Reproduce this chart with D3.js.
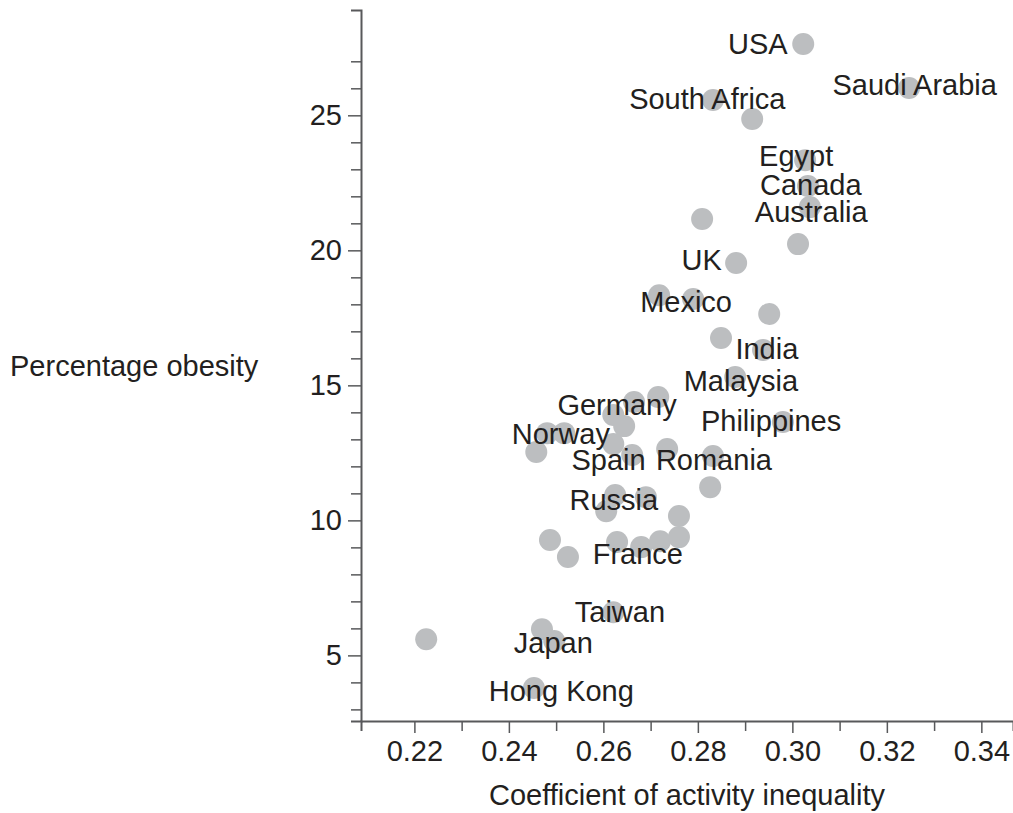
<!DOCTYPE html>
<html>
<head>
<meta charset="utf-8">
<script src="https://cdn.jsdelivr.net/npm/d3@7/dist/d3.min.js"></script>
<style>
  html, body { margin: 0; padding: 0; background: #fff; }
  svg { display: block; }
  text { font-family: "Liberation Sans", Arial, Helvetica, sans-serif; fill: #231f20; }
</style>
</head>
<body>
<svg id="chart" width="1013" height="813"></svg>
<script>
// Coefficient of activity inequality (x) and percentage obesity (y) per country
const inequality = [
  0.3023, 0.3247, 0.2832, 0.2915, 0.3027, 0.3033, 0.3037, 0.2809, 0.3012, 0.2881,
  0.2718, 0.2790, 0.2951, 0.2849, 0.2938, 0.2879, 0.2716, 0.2665, 0.2980, 0.2621,
  0.2644, 0.2481, 0.2517, 0.2458, 0.2621, 0.2661, 0.2735, 0.2832, 0.2826, 0.2625,
  0.2690, 0.2606, 0.2760, 0.2487, 0.2525, 0.2629, 0.2680, 0.2720, 0.2760, 0.2621,
  0.2470, 0.2496, 0.2225, 0.2453
];
const obesity = [
  27.64, 26.01, 25.57, 24.86, 23.34, 22.38, 21.60, 21.16, 20.23, 19.53,
  18.34, 18.20, 17.64, 16.75, 16.31, 15.31, 14.57, 14.38, 13.64, 13.90,
  13.49, 13.23, 13.23, 12.53, 12.83, 12.42, 12.64, 12.38, 11.23, 10.94,
  10.86, 10.34, 10.16, 9.27, 8.64, 9.20, 9.01, 9.23, 9.38, 6.60,
  5.97, 5.53, 5.60, 3.79
];

// Country labels and their anchor points (data units: centre x, baseline y)
const labelNames = ["USA", "Saudi Arabia", "South Africa", "Egypt", "Canada", "Australia",
  "UK", "Mexico", "India", "Malaysia", "Philippines", "Germany", "Norway", "Spain",
  "Romania", "Russia", "France", "Taiwan", "Japan", "Hong Kong"];
const labelX = [0.2927, 0.3259, 0.2820, 0.3008, 0.3039, 0.3040,
  0.2808, 0.2775, 0.2946, 0.2891, 0.2955, 0.2629, 0.2510, 0.2611,
  0.2834, 0.2622, 0.2673, 0.2635, 0.2494, 0.2511];
const labelY = [27.27, 25.76, 25.23, 23.14, 22.05, 21.06,
  19.27, 17.73, 15.97, 14.80, 13.32, 13.90, 12.82, 11.87,
  11.87, 10.38, 8.38, 6.25, 5.08, 3.32];

// Ticks
const xTicks = d3.range(22, 35).map(d => d / 100);
const xTickLabels = ["0.22", "0.24", "0.26", "0.28", "0.30", "0.32", "0.34"];
const yTicks = d3.range(3, 28);
const yTickLabels = ["5", "10", "15", "20", "25"];

const xTitle = "Coefficient of activity inequality";
const yTitle = "Percentage obesity";

const svg = d3.select("#chart");
const axisColor = "#58595b";
const fontSize = 29;

const x = d3.scaleLinear().domain([0.2087, 0.3467]).range([361, 1013]);
const y = d3.scaleLinear().domain([2.57, 28.9]).range([721, 10]);

// dots
svg.append("g").selectAll("circle")
  .data(inequality.map((v, i) => ({ x: v, y: obesity[i] })))
  .join("circle")
  .attr("cx", d => x(d.x))
  .attr("cy", d => y(d.y))
  .attr("r", 11)
  .attr("fill", "#bcbec0");

// x axis
const xFmt = d => { const s = d3.format(".2f")(d); return xTickLabels.includes(s) ? s : ""; };
const gx = svg.append("g")
  .attr("transform", `translate(0,${y.range()[0]})`)
  .call(d3.axisBottom(x).tickValues(xTicks).tickFormat(xFmt).tickSizeOuter(0).tickSize(10).tickPadding(9));
gx.select(".domain").attr("stroke", axisColor).attr("stroke-width", 2);
gx.selectAll(".tick line").attr("stroke", axisColor).attr("stroke-width", 1.5)
  .attr("y2", d => xTickLabels.includes(d3.format(".2f")(d)) ? 12 : 10);
gx.selectAll(".tick text").attr("font-size", fontSize).attr("fill", "#231f20")
  .attr("font-family", '"Liberation Sans", Arial, sans-serif');

// y axis
const yFmt = d => yTickLabels.includes(String(d)) ? String(d) : "";
const gy = svg.append("g")
  .attr("transform", `translate(${x.range()[0]},0)`)
  .call(d3.axisLeft(y).tickValues(yTicks).tickFormat(yFmt).tickSizeOuter(0).tickSize(10).tickPadding(8));
gy.select(".domain").attr("stroke", axisColor).attr("stroke-width", 2);
gy.selectAll(".tick line").attr("stroke", axisColor).attr("stroke-width", 1.5)
  .attr("x2", d => yTickLabels.includes(String(d)) ? -13 : -10);
gy.selectAll(".tick text").attr("font-size", fontSize).attr("fill", "#231f20")
  .attr("x", -19)
  .attr("font-family", '"Liberation Sans", Arial, sans-serif');

// labels
svg.append("g").selectAll("text")
  .data(labelNames.map((n, i) => ({ n, x: labelX[i], y: labelY[i] })))
  .join("text")
  .attr("x", d => x(d.x))
  .attr("y", d => y(d.y))
  .attr("text-anchor", "middle")
  .attr("font-size", fontSize)
  .text(d => d.n);

// axis titles
svg.append("text")
  .attr("x", 687).attr("y", 805)
  .attr("text-anchor", "middle")
  .attr("font-size", fontSize)
  .text(xTitle);
svg.append("text")
  .attr("x", 10).attr("y", 376)
  .attr("font-size", fontSize)
  .text(yTitle);
</script>
</body>
</html>
